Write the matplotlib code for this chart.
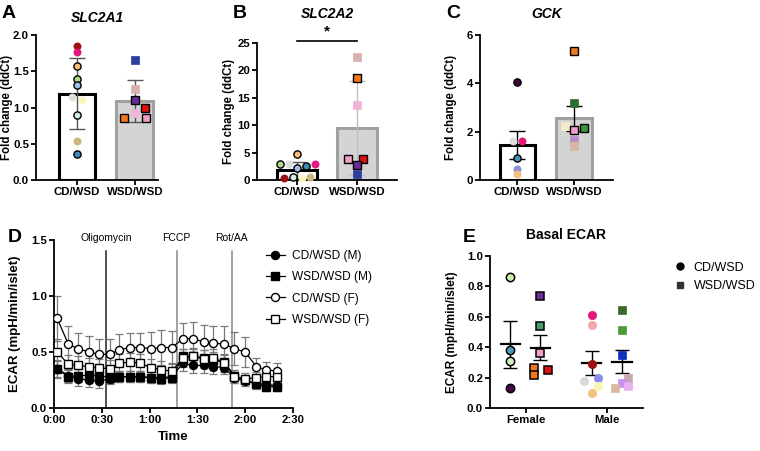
import matplotlib.pyplot as plt
from matplotlib.lines import Line2D

plt.rcParams['font.family'] = ['Liberation Sans', 'DejaVu Sans']
plt.rcParams['font.weight'] = 'bold'
plt.rcParams['axes.labelweight'] = 'bold'
plt.rcParams['axes.titleweight'] = 'bold'

W, H = 760, 451
fig = plt.figure(figsize=(W / 100, H / 100), dpi=100)


def box(x0, y0, x1, y1):
    # pixel box (top-left origin) -> axes
    return fig.add_axes([x0 / W, 1 - y1 / H, (x1 - x0) / W, (y1 - y0) / H])


def style(ax):
    for s in ['top', 'right']:
        ax.spines[s].set_visible(False)
    for s in ['left', 'bottom']:
        ax.spines[s].set_linewidth(1.3)
    ax.tick_params(width=1.3, length=3.5, labelsize=8.2, pad=1.5)


groups = ['CD/WSD', 'WSD/WSD']

# ---- A: SLC2A1
a_cd = [1.85, 1.76, 1.57, 1.40, 1.31, 1.15, 1.11, 0.90, 0.54, 0.36]
a_cd_col = ['#9e1010', '#e2177d', '#f4c07a', '#b0d88e', '#9fbfe6', '#dedede', '#f8f5c0', '#d2f0e0', '#c8b87e', '#3f8bb0']
a_cd_edge = [0, 0, 1, 1, 1, 0, 0, 1, 0, 1]
a_cd_dx = [0, 0, 0, 0, 0, -0.09, 0.09, 0, 0, 0]
a_wsd = [1.66, 1.26, 1.11, 1.00, 0.92, 0.86, 0.85]
a_wsd_col = ['#2b3ea0', '#d8b0b0', '#6a2a9a', '#e01010', '#f0b4d8', '#f0a0c8', '#f07820']
a_wsd_edge = [0, 0, 1, 1, 0, 1, 1]
a_wsd_dx = [0, 0, 0, 0.17, 0, 0.19, -0.19]
a_mean = [1.19, 1.09]
a_sd = [0.49, 0.29]

# ---- B: SLC2A2
b_cd = [4.7, 2.87, 2.87, 2.14, 2.56, 2.87, 0.3, 0.6, 0.3, 0.6]
b_cd_col = ['#f4c07a', '#b0d88e', '#dedede', '#9fbfe6', '#3f8bb0', '#e2177d', '#9e1010', '#d2f0e0', '#f8f5c0', '#c8b87e']
b_cd_edge = [1, 1, 0, 1, 1, 0, 0, 1, 0, 0]
b_cd_dx = [0, -0.29, -0.135, 0, 0.146, 0.3, -0.22, -0.07, 0.074, 0.21]
b_wsd = [22.4, 18.6, 13.7, 3.8, 3.8, 2.74, 1.1]
b_wsd_col = ['#d8b0b0', '#f07820', '#f0b4d8', '#f0a0c8', '#e01010', '#6a2a9a', '#2b3ea0']
b_wsd_edge = [0, 1, 0, 1, 1, 1, 0]
b_wsd_dx = [0, 0, 0, -0.15, 0.1, 0, 0]
b_mean = [1.83, 9.45]
b_sd = [1.5, 8.6]

# ---- C: GCK
c_cd = [4.05, 1.63, 1.60, 0.90, 0.47, 0.25]
c_cd_col = ['#3a0a3a', '#dedede', '#e2177d', '#4a90b0', '#8c8cd8', '#f2c080']
c_cd_edge = [1, 0, 0, 1, 0, 0]
c_cd_dx = [0, -0.08, 0.08, 0, 0, 0]
c_wsd = [5.35, 3.2, 2.23, 2.16, 2.07, 1.65, 1.41]
c_wsd_col = ['#f07820', '#2e6b2e', '#f4ecc8', '#3a9a3a', '#f0a0c8', '#b890c8', '#d8b8a0']
c_wsd_edge = [1, 0, 0, 1, 1, 0, 0]
c_wsd_dx = [0, 0, -0.16, 0.17, 0, 0, 0]
c_mean = [1.45, 2.55]
c_sd = [0.59, 0.52]

# ---- D: ECAR time course (minutes)
t = [2, 9, 15, 22, 28, 35, 41, 48, 54, 61, 67, 74, 81, 87, 94, 100, 107, 113, 120, 127, 133, 140]
cd_m = [0.35, 0.29, 0.26, 0.25, 0.24, 0.26, 0.28, 0.28, 0.28, 0.27, 0.27, 0.28, 0.40, 0.38, 0.38, 0.37, 0.36, 0.27, 0.24, 0.22, 0.21, 0.20]
cd_m_err = [0.07, 0.06, 0.06, 0.06, 0.06, 0.05, 0.05, 0.05, 0.05, 0.05, 0.05, 0.05, 0.07, 0.07, 0.07, 0.07, 0.06, 0.05, 0.04, 0.04, 0.04, 0.04]
wsd_m = [0.35, 0.28, 0.29, 0.29, 0.29, 0.27, 0.28, 0.28, 0.28, 0.27, 0.26, 0.27, 0.46, 0.46, 0.45, 0.43, 0.41, 0.29, 0.25, 0.21, 0.19, 0.19]
wsd_m_err = [0.08, 0.06, 0.06, 0.06, 0.06, 0.05, 0.05, 0.05, 0.05, 0.05, 0.05, 0.05, 0.07, 0.07, 0.07, 0.07, 0.06, 0.05, 0.04, 0.04, 0.04, 0.04]
cd_f = [0.80, 0.57, 0.53, 0.50, 0.48, 0.48, 0.52, 0.54, 0.54, 0.53, 0.54, 0.54, 0.62, 0.62, 0.59, 0.58, 0.57, 0.53, 0.50, 0.37, 0.34, 0.33]
cd_f_err = [0.20, 0.16, 0.14, 0.14, 0.14, 0.14, 0.14, 0.13, 0.13, 0.15, 0.16, 0.15, 0.14, 0.15, 0.15, 0.15, 0.16, 0.15, 0.13, 0.08, 0.07, 0.07]
wsd_f = [0.50, 0.39, 0.38, 0.37, 0.36, 0.35, 0.40, 0.41, 0.40, 0.36, 0.34, 0.33, 0.45, 0.46, 0.44, 0.45, 0.40, 0.28, 0.26, 0.27, 0.28, 0.28]
wsd_f_err = [0.12, 0.08, 0.08, 0.08, 0.08, 0.08, 0.08, 0.08, 0.08, 0.08, 0.08, 0.07, 0.08, 0.08, 0.08, 0.08, 0.08, 0.06, 0.05, 0.05, 0.05, 0.05]
inject_t = [32.5, 77, 111.6]
inject_lbl = ['Oligomycin', 'FCCP', 'Rot/AA']
time_ticks = [0, 30, 60, 90, 120, 150]
time_lbl = ['0:00', '0:30', '1:00', '1:30', '2:00', '2:30']

# ---- E: Basal ECAR
sexes = ['Female', 'Male']
e_f_cd = [0.86, 0.38, 0.31, 0.13]
e_f_cd_col = ['#c8f0a8', '#4a9ab8', '#d4f0c0', '#4a0a4a']
e_f_cd_dx = [0, 0, 0, 0]
e_f_wsd = [0.74, 0.54, 0.36, 0.26, 0.215, 0.253]
e_f_wsd_col = ['#6a2a9a', '#4a9a6a', '#f0a0c8', '#f07820', '#f07820', '#e01010']
e_f_wsd_dx = [0, 0, 0, -0.08, -0.08, 0.09]
e_m_cd = [0.61, 0.545, 0.29, 0.20, 0.176, 0.143, 0.10]
e_m_cd_col = ['#e2177d', '#f0a8a8', '#a01010', '#8c8cf0', '#d9d9d9', '#f8f6b0', '#f2c080']
e_m_cd_dx = [0, 0, 0, 0.08, -0.09, 0.08, 0]
e_m_wsd = [0.644, 0.51, 0.35, 0.20, 0.167, 0.145, 0.13]
e_m_wsd_col = ['#3a6a2a', '#4a9a3a', '#1030c0', '#c8a8a8', '#c890f0', '#e8b0f0', '#d8b8a0']
e_m_wsd_dx = [0, 0, 0, 0.08, 0, 0.08, -0.09]
e_mean = [[0.42, 0.396], [0.295, 0.305]]
e_sem = [[0.155, 0.083], [0.077, 0.078]]


def bar_panel(ax, mean, sd, pts, title, letter, lx, ylim, yticks, widths, ecol, tpad, ylx):
    fills = ['white', '#d4d4d4']
    edges = ['black', '#a0a0a0']
    for i in range(2):
        ax.bar(i, mean[i], width=widths[i], color=fills[i], edgecolor=edges[i], linewidth=2.2, zorder=1)
        ax.errorbar(i, mean[i], yerr=sd[i], color=ecol[i], capsize=6, elinewidth=1.0, capthick=1.0, zorder=2)
    for i, (vals, cols, eds, dx, mk) in enumerate(pts):
        for v, c, e, d in zip(vals, cols, eds, dx):
            ax.plot(i + d, v, marker=mk, ms=5.2, color=c, mec='black' if e else c,
                    mew=1.0 if e else 0.5, clip_on=False, zorder=3)
    ax.set_ylim(*ylim)
    ax.set_yticks(yticks)
    ax.set_xticks([0, 1])
    ax.set_xticklabels(groups)
    ax.set_ylabel('Fold change (ddCt)', fontsize=8.3)
    ax.yaxis.set_label_coords(ylx, 0.5)
    ax.set_title(title, fontsize=10, style='italic', pad=tpad)
    style(ax)
    fig.text(lx / W, 1 - 14 / H, letter, fontsize=14, fontweight='bold', va='center')


axA = box(36, 35, 158, 180)
bar_panel(axA, a_mean, a_sd,
          [(a_cd, a_cd_col, a_cd_edge, a_cd_dx, 'o'), (a_wsd, a_wsd_col, a_wsd_edge, a_wsd_dx, 's')],
          'SLC2A1', 'A', 2, (0, 2.0), [0, 0.5, 1.0, 1.5, 2.0], [0.63, 0.64], ['#555555', '#555555'],
          9, -0.19)
axA.set_xlim(-0.71, 1.40)
axA.set_yticklabels(['0.0', '0.5', '1.0', '1.5', '2.0'])

axB = box(257, 43, 397, 180)
bar_panel(axB, b_mean, b_sd,
          [(b_cd, b_cd_col, b_cd_edge, b_cd_dx, 'o'), (b_wsd, b_wsd_col, b_wsd_edge, b_wsd_dx, 's')],
          'SLC2A2', 'B', 233, (0, 25), [0, 5, 10, 15, 20, 25], [0.66, 0.66], ['#555555', '#c0c0c0'],
          18, -0.16)
axB.set_xlim(-0.67, 1.67)
axB.plot([0, 1], [25.3, 25.3], color='black', lw=1.2, clip_on=False)
axB.text(0.5, 25.9, '*', ha='center', va='bottom', fontsize=11, fontweight='bold')

axC = box(480, 35, 613, 180)
bar_panel(axC, c_mean, c_sd,
          [(c_cd, c_cd_col, c_cd_edge, c_cd_dx, 'o'), (c_wsd, c_wsd_col, c_wsd_edge, c_wsd_dx, 's')],
          'GCK', 'C', 446, (0, 6), [0, 2, 4, 6], [0.61, 0.63], ['black', 'black'],
          12, -0.17)
axC.set_xlim(-0.65, 1.68)

# ---- D
axD = box(54, 240, 293, 408)
series = [(cd_m, cd_m_err, 'o', 'black', 'CD/WSD (M)'),
          (wsd_m, wsd_m_err, 's', 'black', 'WSD/WSD (M)'),
          (cd_f, cd_f_err, 'o', 'white', 'CD/WSD (F)'),
          (wsd_f, wsd_f_err, 's', 'white', 'WSD/WSD (F)')]
for vals, err, mk, fc, lab in series:
    axD.errorbar(t, vals, yerr=err, fmt='none', ecolor='#7a7a7a', elinewidth=0.9, capsize=2.8, capthick=0.9, zorder=2)
handles = []
for vals, err, mk, fc, lab in series:
    axD.plot(t, vals, color='black', lw=0.9, marker=mk, ms=5.8, mfc=fc, mec='black', mew=1.0, zorder=3)
    handles.append(Line2D([], [], color='black', lw=0.9, marker=mk, ms=5.8, mfc=fc, mec='black', mew=1.0, label=lab))
for x, lab, c in zip(inject_t, inject_lbl, ['#222222', '#888888', '#888888']):
    axD.plot([x, x], [0, 1.4], color=c, lw=1.1, zorder=1)
    axD.text(x, 1.52, lab, ha='center', va='center', fontsize=7.5, fontweight='normal',
             family=['Liberation Sans Narrow', 'Liberation Sans'])
axD.set_xlim(0, 150)
axD.set_ylim(0, 1.5)
axD.set_xticks(time_ticks)
axD.set_xticklabels(time_lbl)
axD.set_yticks([0, 0.5, 1.0, 1.5])
axD.set_xlabel('Time', fontsize=9.5, labelpad=4)
axD.set_ylabel('ECAR (mpH/min/islet)', fontsize=9.5)
axD.yaxis.set_label_coords(-0.138, 0.5)
style(axD)
axD.legend(handles=handles, loc='center left', bbox_to_anchor=(255 / W, 1 - 288 / H),
           bbox_transform=fig.transFigure, frameon=False,
           prop={'weight': 'normal', 'size': 8.6}, handlelength=1.6, handletextpad=0.6, labelspacing=0.78)
fig.text(8 / W, 1 - 238 / H, 'D', fontsize=14, fontweight='bold', va='center')

# ---- E
axE = box(490, 256, 643, 408)
e_sets = [
    (0 - 0.19, e_f_cd, e_f_cd_col, e_f_cd_dx, 'o', True),
    (0 + 0.18, e_f_wsd, e_f_wsd_col, e_f_wsd_dx, 's', True),
    (1 - 0.19, e_m_cd, e_m_cd_col, e_m_cd_dx, 'o', False),
    (1 + 0.18, e_m_wsd, e_m_wsd_col, e_m_wsd_dx, 's', False),
]
for k, (xc, vals, cols, dx, mk, edge) in enumerate(e_sets):
    m = e_mean[k // 2][k % 2]
    s = e_sem[k // 2][k % 2]
    axE.plot([xc - 0.12, xc + 0.12], [m, m], color='black', lw=1.6, zorder=2)
    axE.errorbar(xc, m, yerr=s, fmt='none', ecolor='black', elinewidth=1.0, capsize=5, capthick=1.0, zorder=2)
    for v, c, d in zip(vals, cols, dx):
        axE.plot(xc + d, v, marker=mk, ms=6, color=c, mec='black' if edge else c,
                 mew=1.1 if edge else 0.5, zorder=3)
axE.set_xlim(-0.44, 1.44)
axE.set_ylim(0, 1.0)
axE.set_yticks([0, 0.2, 0.4, 0.6, 0.8, 1.0])
axE.set_yticklabels(['0.0', '0.2', '0.4', '0.6', '0.8', '1.0'])
axE.set_xticks([0, 1])
axE.set_xticklabels(sexes)
axE.set_ylabel('ECAR (mpH/min/islet)', fontsize=8.5)
axE.yaxis.set_label_coords(-0.206, 0.5)
axE.set_title('Basal ECAR', fontsize=10, pad=12)
style(axE)
e_handles = [Line2D([], [], ls='none', marker='o', ms=5, color='black', label='CD/WSD'),
             Line2D([], [], ls='none', marker='s', ms=5, color='#333333', label='WSD/WSD')]
axE.legend(handles=e_handles, loc='center left', bbox_to_anchor=(666 / W, 1 - 277 / H),
           bbox_transform=fig.transFigure, frameon=False, borderaxespad=0.2,
           prop={'weight': 'normal', 'size': 9}, handlelength=1.0, handletextpad=0.6, labelspacing=0.55)
fig.text(463 / W, 1 - 238 / H, 'E', fontsize=14, fontweight='bold', va='center')

fig.savefig('out.png', dpi=100)
